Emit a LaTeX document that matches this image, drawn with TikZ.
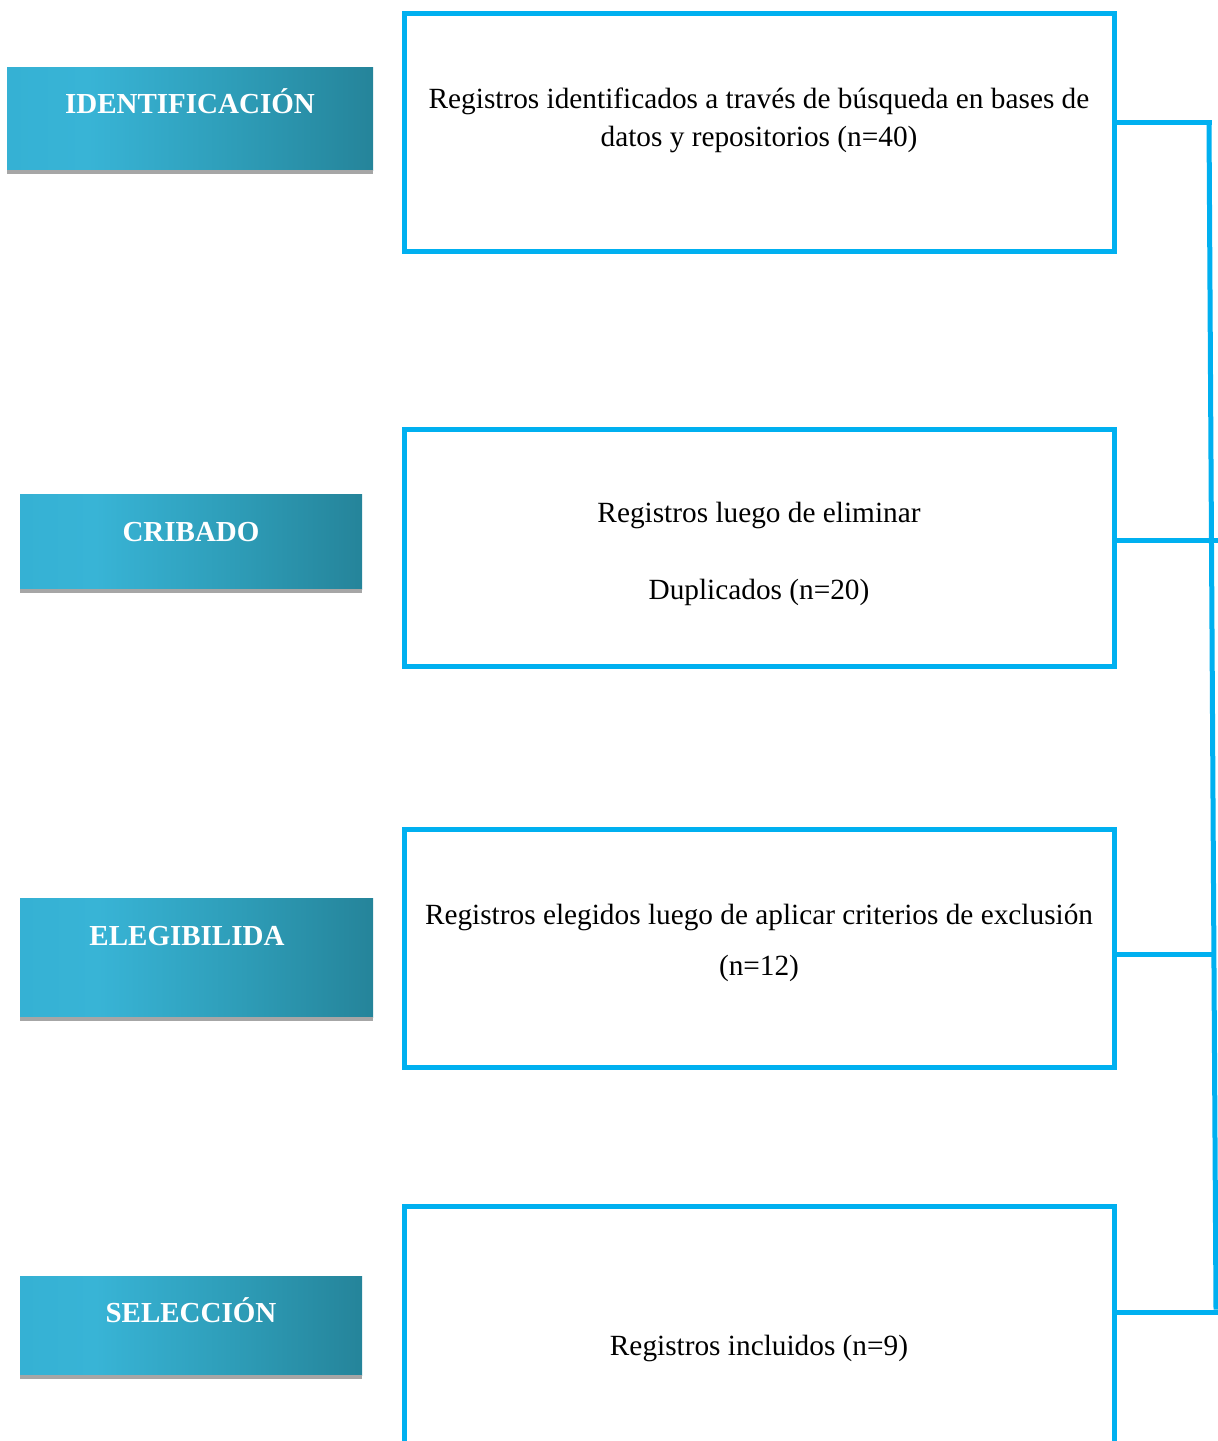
\documentclass[tikz,border=0pt]{standalone}
\usepackage{fontspec}
\setmainfont{Liberation Serif}
\definecolor{bxblue}{HTML}{00B0F0}
\definecolor{labL}{HTML}{35B1D4}
\definecolor{labA}{HTML}{38B4D6}
\definecolor{labM}{HTML}{2E9DB8}
\definecolor{labB}{HTML}{25849A}
\definecolor{shadowgray}{HTML}{A6A6A6}
\pgfdeclarehorizontalshading{labshade}{100bp}{color(0bp)=(labL); color(25bp)=(labL); color(36bp)=(labA); color(56bp)=(labM); color(75bp)=(labB); color(100bp)=(labB)}
\begin{document}
\begin{tikzpicture}[x=1pt,y=-1pt,
  mainbox/.style={draw=bxblue, line width=5pt, minimum width=710pt, anchor=north west, inner sep=0pt, outer sep=0pt},
  labbox/.style={shading=labshade, draw=none, anchor=north west, inner sep=0pt, outer sep=0pt},
  labtext/.style={text=white, font=\fontsize{29}{34}\selectfont\bfseries, anchor=base, inner sep=0pt},
  maintext/.style={font=\fontsize{29.3}{35}\selectfont, anchor=base, inner sep=0pt},
  conn/.style={draw=bxblue, line width=5pt}]
\useasboundingbox (0,0) rectangle (1218,1441);
\clip (0,0) rectangle (1218,1441);
% main boxes
\node[mainbox, minimum height=238pt] (b1) at (404,13) {};
\node[mainbox, minimum height=237pt] (b2) at (404,429) {};
\node[mainbox, minimum height=238pt] (b3) at (404,829) {};
\node[mainbox, minimum height=260pt] (b4) at (404,1206) {};
% main texts
\node[maintext] (t1a) at (759,108) {Registros identificados a través de búsqueda en bases de};
\node[maintext] (t1b) at (759,146) {datos y repositorios (n=40)};
\node[maintext] (t2a) at (759,522) {Registros luego de eliminar};
\node[maintext] (t2b) at (759,599) {Duplicados (n=20)};
\node[maintext] (t3a) at (759,924) {Registros elegidos luego de aplicar criterios de exclusión};
\node[maintext] (t3b) at (759,975) {(n=12)};
\node[maintext] (t4a) at (759,1355) {Registros incluidos (n=9)};
% label boxes
\node[labbox, minimum width=366pt, minimum height=103pt] (l1) at (7,67) {};
\node[labbox, minimum width=342pt, minimum height=95pt] (l2) at (20,494) {};
\node[labbox, minimum width=353pt, minimum height=119pt] (l3) at (20,898) {};
\node[labbox, minimum width=342pt, minimum height=99pt] (l4) at (20,1276) {};
\foreach \l in {l1,l2,l3,l4}{
  \fill[shadowgray] (\l.south west) rectangle ([yshift=-3.5pt]\l.south east);
}
\node[labtext] (n1) at (190,113) {IDENTIFICACIÓN};
\node[labtext] (n2) at (191,541) {CRIBADO};
\node[labtext] (n3) at (187,945) {ELEGIBILIDA};
\node[labtext] (n4) at (191,1322) {SELECCIÓN};
% connectors
\coordinate (j1) at (1209,122);
\coordinate (j2) at (1218,540);
\coordinate (j3) at (1215,954);
\coordinate (j4) at (1216,1312);
\draw[conn] (b1.east |- j1) -- ([xshift=2.5pt]j1);
\draw[conn] (j1) -- ([yshift=2.5pt]j4);
\draw[conn] (b2.east |- j2) -- (j2);
\draw[conn] (b3.east |- j3) -- (j3);
\draw[conn] (b4.east |- j4) -- ([xshift=2.5pt]j4);
\end{tikzpicture}
\end{document}
